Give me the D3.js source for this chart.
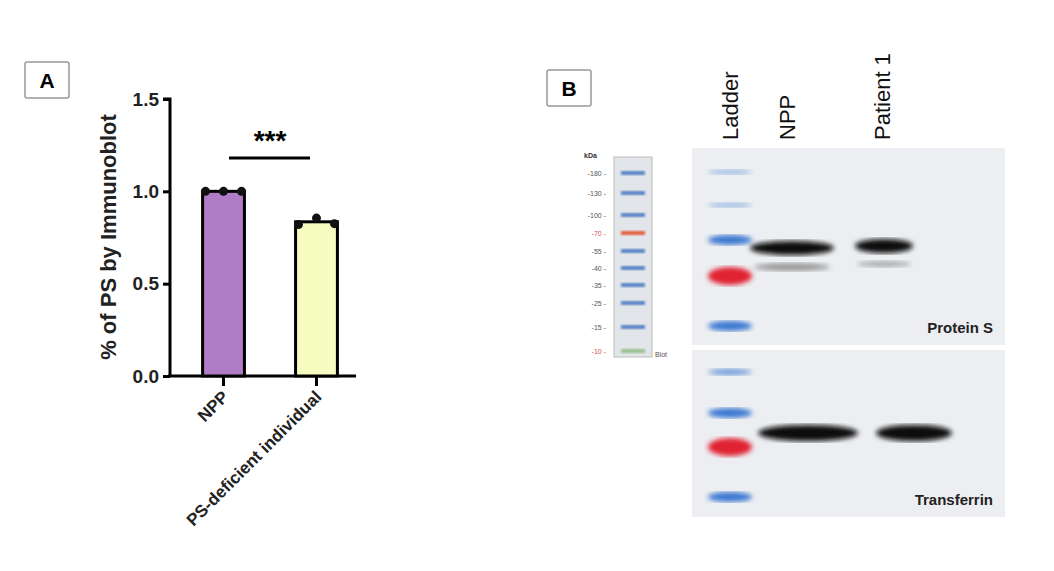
<!DOCTYPE html>
<html><head><meta charset="utf-8">
<script src="https://cdn.jsdelivr.net/npm/d3@7"></script>
<style>body{margin:0;background:#fff;font-family:Arial,"Liberation Sans",sans-serif}</style>
</head><body><svg id="c" width="1054" height="571"></svg>
<script>
const groups = ['NPP', 'PS-deficient individual'];
const means = [1.0, 0.835];
const points = [[1.0, 1.0, 1.0], [0.82, 0.855, 0.825]];
const yTicks = [0, 0.5, 1.0, 1.5];
const ladderKda = ['180', '130', '100', '70', '55', '40', '35', '25', '15', '10'];
const ladderY = [173, 193, 215, 233, 251, 268, 285, 303, 327, 351];

const svg = d3.select('#c');

// panel tags
const tag = (x, y, t) => {
  svg.append('rect').attr('x', x).attr('y', y).attr('width', 44).attr('height', 36)
    .attr('fill', '#fff').attr('stroke', '#999').attr('stroke-width', 1.5).attr('rx', 2);
  svg.append('text').attr('x', x + 22).attr('y', y + 26).attr('text-anchor', 'middle')
    .attr('font-size', 21).attr('font-weight', 'bold').text(t);
};
tag(25, 62, 'A');
tag(547, 70, 'B');

// panel A bar chart
const y = d3.scaleLinear().domain([0, 1.5]).range([376, 99]);
const x = d3.scaleBand().domain(groups).range([184, 356]).paddingInner(0.55).paddingOuter(0.2);
const gA = svg.append('g');
gA.append('g').attr('transform', 'translate(170,0)')
  .call(d3.axisLeft(y).tickValues(yTicks).tickFormat(d3.format('.1f')).tickSize(7).tickPadding(4))
  .call(g => g.select('.domain').attr('stroke-width', 3).attr('d', 'M-7,99H0V376'))
  .call(g => g.selectAll('.tick line').attr('stroke-width', 3))
  .call(g => g.selectAll('.tick text').attr('font-size', 19).attr('font-weight', 'bold').attr('fill', '#222'));
gA.append('line').attr('x1', 168).attr('x2', 356).attr('y1', 376).attr('y2', 376).attr('stroke', '#000').attr('stroke-width', 3);
gA.selectAll('.bar').data(groups).join('rect')
  .attr('x', d => x(d)).attr('y', (d, i) => y(means[i]))
  .attr('width', x.bandwidth()).attr('height', (d, i) => 376 - y(means[i]))
  .attr('fill', (d, i) => i ? '#f7fcc0' : '#b07cc6').attr('stroke', '#000').attr('stroke-width', 3);
groups.forEach((g, i) => {
  const cx = x(g) + x.bandwidth() / 2;
  gA.append('line').attr('x1', cx).attr('x2', cx).attr('y1', 376).attr('y2', 386).attr('stroke', '#000').attr('stroke-width', 3);
  gA.selectAll(null).data(points[i]).join('circle')
    .attr('cx', (d, j) => cx + (j - 1) * 18).attr('cy', d => y(d)).attr('r', 4.5).attr('fill', '#111');
  gA.append('text').attr('transform', `translate(${cx + 6},${398}) rotate(-45)`)
    .attr('text-anchor', 'end').attr('font-size', 17).attr('font-weight', 'bold').attr('fill', '#222').text(g);
});
gA.append('line').attr('x1', 229).attr('x2', 310).attr('y1', 158).attr('y2', 158).attr('stroke', '#000').attr('stroke-width', 3);
gA.append('text').attr('x', 270).attr('y', 150).attr('text-anchor', 'middle').attr('font-size', 28).attr('font-weight', 'bold').text('***');
gA.append('text').attr('transform', 'translate(116,237) rotate(-90)').attr('text-anchor', 'middle')
  .attr('font-size', 22).attr('font-weight', 'bold').attr('fill', '#222').text('% of PS by Immunoblot');

// panel B
const defs = svg.append('defs');
defs.append('filter').attr('id', 'blur').append('feGaussianBlur').attr('stdDeviation', 2.5);
defs.append('filter').attr('id', 'blur2').append('feGaussianBlur').attr('stdDeviation', 1);

// ladder reference strip
svg.append('rect').attr('x', 614).attr('y', 157).attr('width', 38).attr('height', 200)
  .attr('fill', '#e2e6ea').attr('stroke', '#bbb');
svg.append('text').attr('x', 584).attr('y', 158).attr('font-size', 7).attr('font-weight', 'bold').attr('fill', '#333').text('kDa');
ladderKda.forEach((k, i) => {
  const red = k === '70' || k === '10';
  svg.append('text').attr('x', 606).attr('y', ladderY[i] + 3).attr('text-anchor', 'end')
    .attr('font-size', 7).attr('fill', red ? '#d05050' : '#555').text('-' + k + ' -');
  svg.append('rect').attr('x', 621).attr('y', ladderY[i] - 2).attr('width', 24).attr('height', 4)
    .attr('fill', k === '70' ? '#e06040' : k === '10' ? '#9cc090' : '#5a85c8').attr('filter', 'url(#blur2)');
});
svg.append('text').attr('x', 655).attr('y', 357).attr('font-size', 7).attr('fill', '#555').text('Blot');

// blot panels
const blot = (y0, h, ladder, bands, label) => {
  svg.append('rect').attr('x', 692).attr('y', y0).attr('width', 313).attr('height', h).attr('fill', '#eceef1');
  ladder.forEach(b => svg.append('ellipse').attr('cx', 730).attr('cy', b[0]).attr('rx', 22).attr('ry', b[1])
    .attr('fill', b[2]).attr('filter', 'url(#blur)'));
  bands.forEach(b => svg.append('ellipse').attr('cx', b[0]).attr('cy', b[1]).attr('rx', b[2]).attr('ry', b[3])
    .attr('fill', b[4]).attr('filter', 'url(#blur)'));
  svg.append('text').attr('x', 993).attr('y', y0 + h - 12).attr('text-anchor', 'end')
    .attr('font-size', 15).attr('font-weight', 'bold').attr('fill', '#222').text(label);
};
blot(148, 197, [[172, 2, '#8fb0e0'], [205, 2, '#8fb0e0'], [240, 5, '#3a78d0'], [276, 9, '#e02030'], [326, 5, '#3a78d0']],
  [[792, 248, 42, 7, '#0a0a0a'], [792, 267, 38, 4, '#9a9a9a'], [884, 246, 29, 7, '#0a0a0a'], [884, 264, 27, 3, '#aaa']], 'Protein S');
blot(350, 167, [[372, 3, '#6a98d8'], [413, 5, '#3a78d0'], [447, 9, '#e02030'], [497, 5, '#3a78d0']],
  [[808, 433, 50, 8, '#0a0a0a'], [914, 433, 38, 8, '#0a0a0a']], 'Transferrin');

// lane labels
[[738, 'Ladder'], [795, 'NPP'], [890, 'Patient 1']].forEach(([lx, t]) =>
  svg.append('text').attr('transform', `translate(${lx},140) rotate(-90)`).attr('font-size', 22).attr('fill', '#111').text(t));
</script></body></html>
